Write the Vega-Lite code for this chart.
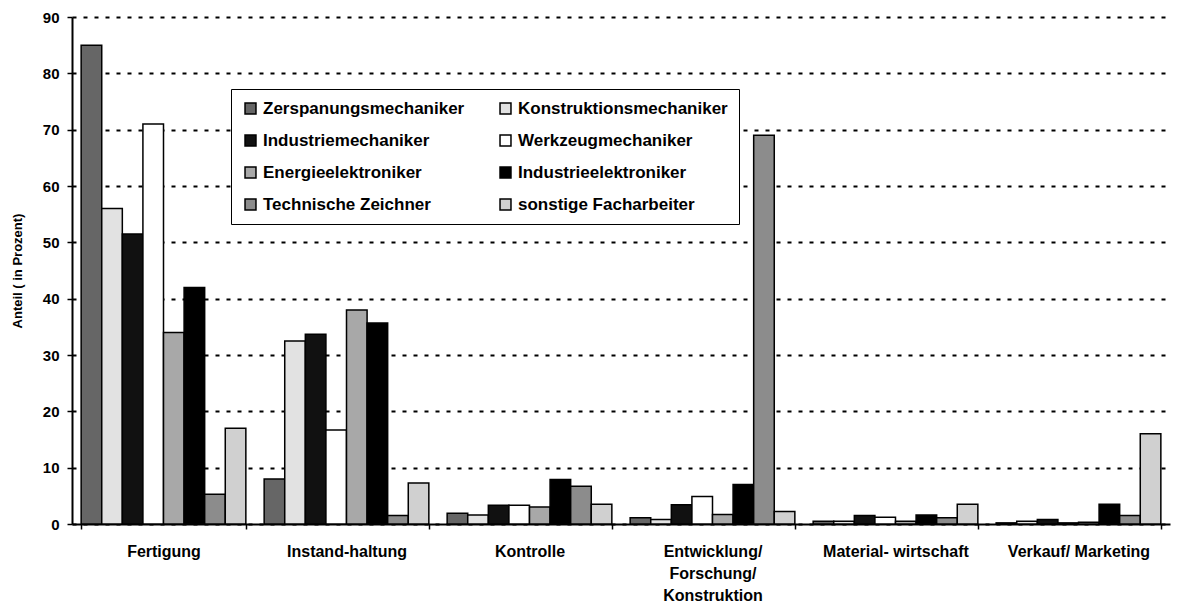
{
  "$schema": "https://vega.github.io/schema/vega-lite/v6.json",
  "width": 1098,
  "height": 507,
  "autosize": {"type": "none"},
  "padding": {"left": 72, "top": 17, "right": 9, "bottom": 83},
  "background": "white",
  "config": {
    "font": "Liberation Sans",
    "view": {"stroke": null},
    "axis": {"labelFont": "Liberation Sans", "titleFont": "Liberation Sans"}
  },
  "data": {
    "values": [
      {"bereich": "Fertigung", "beruf": "Zerspanungsmechaniker", "wert": 85},
      {"bereich": "Fertigung", "beruf": "Konstruktionsmechaniker", "wert": 56},
      {"bereich": "Fertigung", "beruf": "Industriemechaniker", "wert": 51.5},
      {"bereich": "Fertigung", "beruf": "Werkzeugmechaniker", "wert": 71},
      {"bereich": "Fertigung", "beruf": "Energieelektroniker", "wert": 34},
      {"bereich": "Fertigung", "beruf": "Industrieelektroniker", "wert": 42},
      {"bereich": "Fertigung", "beruf": "Technische Zeichner", "wert": 5.3},
      {"bereich": "Fertigung", "beruf": "sonstige Facharbeiter", "wert": 17},
      {"bereich": "Instand-haltung", "beruf": "Zerspanungsmechaniker", "wert": 8},
      {"bereich": "Instand-haltung", "beruf": "Konstruktionsmechaniker", "wert": 32.5},
      {"bereich": "Instand-haltung", "beruf": "Industriemechaniker", "wert": 33.7},
      {"bereich": "Instand-haltung", "beruf": "Werkzeugmechaniker", "wert": 16.7},
      {"bereich": "Instand-haltung", "beruf": "Energieelektroniker", "wert": 38},
      {"bereich": "Instand-haltung", "beruf": "Industrieelektroniker", "wert": 35.7},
      {"bereich": "Instand-haltung", "beruf": "Technische Zeichner", "wert": 1.5},
      {"bereich": "Instand-haltung", "beruf": "sonstige Facharbeiter", "wert": 7.3},
      {"bereich": "Kontrolle", "beruf": "Zerspanungsmechaniker", "wert": 1.9},
      {"bereich": "Kontrolle", "beruf": "Konstruktionsmechaniker", "wert": 1.6},
      {"bereich": "Kontrolle", "beruf": "Industriemechaniker", "wert": 3.35},
      {"bereich": "Kontrolle", "beruf": "Werkzeugmechaniker", "wert": 3.35},
      {"bereich": "Kontrolle", "beruf": "Energieelektroniker", "wert": 3.0},
      {"bereich": "Kontrolle", "beruf": "Industrieelektroniker", "wert": 7.9},
      {"bereich": "Kontrolle", "beruf": "Technische Zeichner", "wert": 6.7},
      {"bereich": "Kontrolle", "beruf": "sonstige Facharbeiter", "wert": 3.5},
      {"bereich": "Entwicklung/ Forschung/ Konstruktion", "beruf": "Zerspanungsmechaniker", "wert": 1.1},
      {"bereich": "Entwicklung/ Forschung/ Konstruktion", "beruf": "Konstruktionsmechaniker", "wert": 0.8},
      {"bereich": "Entwicklung/ Forschung/ Konstruktion", "beruf": "Industriemechaniker", "wert": 3.4},
      {"bereich": "Entwicklung/ Forschung/ Konstruktion", "beruf": "Werkzeugmechaniker", "wert": 4.9},
      {"bereich": "Entwicklung/ Forschung/ Konstruktion", "beruf": "Energieelektroniker", "wert": 1.7},
      {"bereich": "Entwicklung/ Forschung/ Konstruktion", "beruf": "Industrieelektroniker", "wert": 7.0},
      {"bereich": "Entwicklung/ Forschung/ Konstruktion", "beruf": "Technische Zeichner", "wert": 69},
      {"bereich": "Entwicklung/ Forschung/ Konstruktion", "beruf": "sonstige Facharbeiter", "wert": 2.2},
      {"bereich": "Material- wirtschaft", "beruf": "Zerspanungsmechaniker", "wert": 0.5},
      {"bereich": "Material- wirtschaft", "beruf": "Konstruktionsmechaniker", "wert": 0.5},
      {"bereich": "Material- wirtschaft", "beruf": "Industriemechaniker", "wert": 1.5},
      {"bereich": "Material- wirtschaft", "beruf": "Werkzeugmechaniker", "wert": 1.2},
      {"bereich": "Material- wirtschaft", "beruf": "Energieelektroniker", "wert": 0.5},
      {"bereich": "Material- wirtschaft", "beruf": "Industrieelektroniker", "wert": 1.6},
      {"bereich": "Material- wirtschaft", "beruf": "Technische Zeichner", "wert": 1.1},
      {"bereich": "Material- wirtschaft", "beruf": "sonstige Facharbeiter", "wert": 3.5},
      {"bereich": "Verkauf/ Marketing", "beruf": "Zerspanungsmechaniker", "wert": 0.2},
      {"bereich": "Verkauf/ Marketing", "beruf": "Konstruktionsmechaniker", "wert": 0.5},
      {"bereich": "Verkauf/ Marketing", "beruf": "Industriemechaniker", "wert": 0.8},
      {"bereich": "Verkauf/ Marketing", "beruf": "Werkzeugmechaniker", "wert": 0.2},
      {"bereich": "Verkauf/ Marketing", "beruf": "Energieelektroniker", "wert": 0.3},
      {"bereich": "Verkauf/ Marketing", "beruf": "Industrieelektroniker", "wert": 3.5},
      {"bereich": "Verkauf/ Marketing", "beruf": "Technische Zeichner", "wert": 1.5},
      {"bereich": "Verkauf/ Marketing", "beruf": "sonstige Facharbeiter", "wert": 16}
    ]
  },
  "mark": {"type": "bar", "stroke": "black", "strokeWidth": 1.5},
  "encoding": {
    "x": {
      "field": "bereich",
      "type": "nominal",
      "sort": null,
      "scale": {"paddingInner": 0.1, "paddingOuter": 0.05},
      "axis": {
        "title": null,
        "labelAngle": 0,
        "labelFontSize": 16,
        "labelFontWeight": "bold",
        "labelColor": "black",
        "labelPadding": 14,
        "labelLineHeight": 22,
        "tickBand": "extent",
        "tickColor": "black",
        "tickSize": 5,
        "tickWidth": 1.5,
        "domainColor": "black",
        "domainWidth": 2,
        "labelExpr": "datum.value == 'Entwicklung/ Forschung/ Konstruktion' ? ['Entwicklung/', 'Forschung/', 'Konstruktion'] : datum.value"
      }
    },
    "xOffset": {
      "field": "beruf",
      "type": "nominal",
      "sort": null,
      "scale": {"paddingInner": 0, "paddingOuter": 0}
    },
    "y": {
      "field": "wert",
      "type": "quantitative",
      "scale": {"domain": [0, 90]},
      "axis": {
        "title": "Anteil ( in Prozent)",
        "titleFontSize": 13,
        "titleFontWeight": "bold",
        "titleColor": "black",
        "titlePadding": 18,
        "values": [0, 10, 20, 30, 40, 50, 60, 70, 80, 90],
        "labelFontSize": 15,
        "labelFontWeight": "bold",
        "labelColor": "black",
        "labelPadding": 8,
        "tickColor": "black",
        "tickSize": 5,
        "tickWidth": 1.5,
        "domainColor": "black",
        "domainWidth": 2,
        "grid": true,
        "gridColor": "black",
        "gridWidth": 2.2,
        "gridDash": [4, 7]
      }
    },
    "fill": {
      "field": "beruf",
      "type": "nominal",
      "sort": null,
      "scale": {
        "domain": ["Zerspanungsmechaniker", "Konstruktionsmechaniker", "Industriemechaniker", "Werkzeugmechaniker", "Energieelektroniker", "Industrieelektroniker", "Technische Zeichner", "sonstige Facharbeiter"],
        "range": ["#666666", "#e2e2e2", "#111111", "#ffffff", "#a8a8a8", "#000000", "#8c8c8c", "#d0d0d0"]
      },
      "legend": {
        "title": null,
        "orient": "none",
        "legendX": 159,
        "legendY": 72,
        "columns": 2,
        "direction": "horizontal",
        "symbolType": "square",
        "symbolSize": 120,
        "symbolStrokeColor": "black",
        "symbolStrokeWidth": 1.5,
        "labelFontSize": 17,
        "labelFontWeight": "bold",
        "labelColor": "black",
        "labelFont": "Liberation Sans",
        "labelOffset": 4,
        "columnPadding": 32,
        "rowPadding": 14,
        "padding": 11,
        "strokeColor": "black",
        "fillColor": "white",
        "labelLimit": 300
      }
    }
  }
}
